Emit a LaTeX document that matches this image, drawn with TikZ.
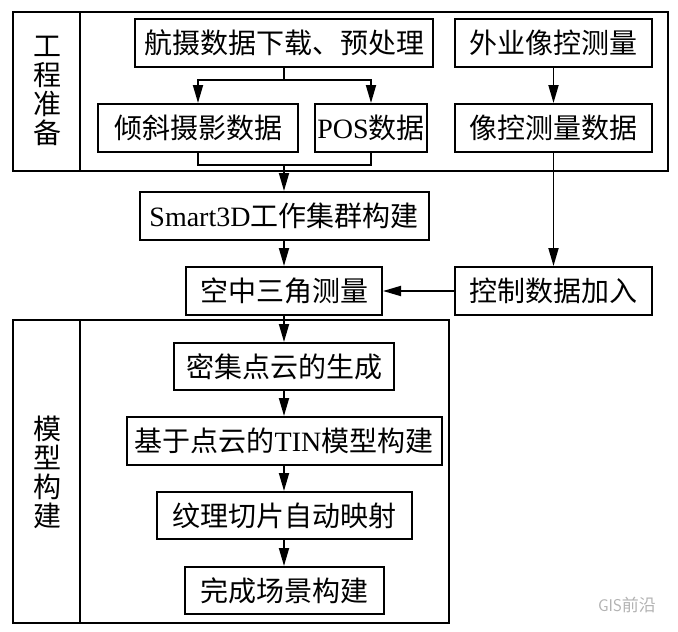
\documentclass[tikz,border=0pt]{standalone}
\usepackage{fontspec}
\setmainfont{Liberation Serif}
\newfontfamily\cjk{Noto Sans CJK SC}
\usetikzlibrary{arrows.meta,positioning}

\begin{document}
\begin{tikzpicture}[
  x=1pt,y=-1pt,
  box/.style={draw,line width=2pt,minimum height=48,inner sep=0pt,
    font=\fontsize{28}{30}\selectfont},
  frame/.style={draw,line width=2pt},
  side/.style={align=center,font=\cjk\fontsize{28}{29}\selectfont},
  arr/.style={line width=1.8pt,-{Triangle[length=18pt,width=10pt]}},
  lin/.style={line width=1.8pt}
]
  \useasboundingbox (0,0) rectangle (678,632);
  % frames
  \draw[frame] (13,12) rectangle (668,171);
  \draw[frame] (80,12) -- (80,171);
  \draw[frame] (13,320) rectangle (449,623);
  \draw[frame] (80,320) -- (80,623);
  \node[side] (gc) at (47,91) {工\\程\\准\\备};
  \node[side] (mx) at (47,472) {模\\型\\构\\建};
  % Row 1
  \node[box,minimum width=298] (dl) at (284,43) {\cjk 航摄数据下载、预处理};
  \node[box,minimum width=197] (wy) at (553.5,43) {\cjk 外业像控测量};
  % Row 2
  \node[box,minimum width=200] (qx) at (198,128) {\cjk 倾斜摄影数据};
  \node[box,minimum width=112] (pos) at (371,128) {POS{\cjk 数据}};
  \node[box,minimum width=197] (xk) at (553.5,128) {\cjk 像控测量数据};
  % middle
  \node[box,minimum width=289] (sm) at (284,216) {Smart3D{\cjk 工作集群构建}};
  \node[box,minimum width=196] (kz) at (284,291) {\cjk 空中三角测量};
  \node[box,minimum width=197] (jr) at (553.5,291) {\cjk 控制数据加入};
  % model building
  \node[box,minimum width=220,minimum height=47] (mj) at (284,366.5) {\cjk 密集点云的生成};
  \node[box,minimum width=315] (tin) at (284,441) {{\cjk 基于点云的}TIN{\cjk 模型构建}};
  \node[box,minimum width=255,minimum height=47] (wl) at (284,515.5) {\cjk 纹理切片自动映射};
  \node[box,minimum width=199,minimum height=47] (wc) at (284,590.5) {\cjk 完成场景构建};
  % connectors
  \coordinate (spl) at (284,80);
  \coordinate (mrg) at (284,165);
  \draw[lin] (dl) -- (spl);
  \draw[arr] (spl) -| (qx);
  \draw[arr] (spl) -| (pos);
  \draw[lin] (qx) |- (mrg) -| (pos);
  \draw[arr] (mrg) -- (sm);
  \draw[arr] (wy) -- (xk);
  \draw[arr] (xk) -- (jr);
  \draw[arr] (jr) -- (kz);
  \draw[arr] (sm) -- (kz);
  \draw[arr] (kz) -- (mj);
  \draw[arr] (mj) -- (tin);
  \draw[arr] (tin) -- (wl);
  \draw[arr] (wl) -- (wc);
  % watermark
  \node[text=black!30,font=\sffamily\fontsize{17}{18}\selectfont] (wm) at (627,605) {GIS{\cjk 前沿}};
\end{tikzpicture}
\end{document}
